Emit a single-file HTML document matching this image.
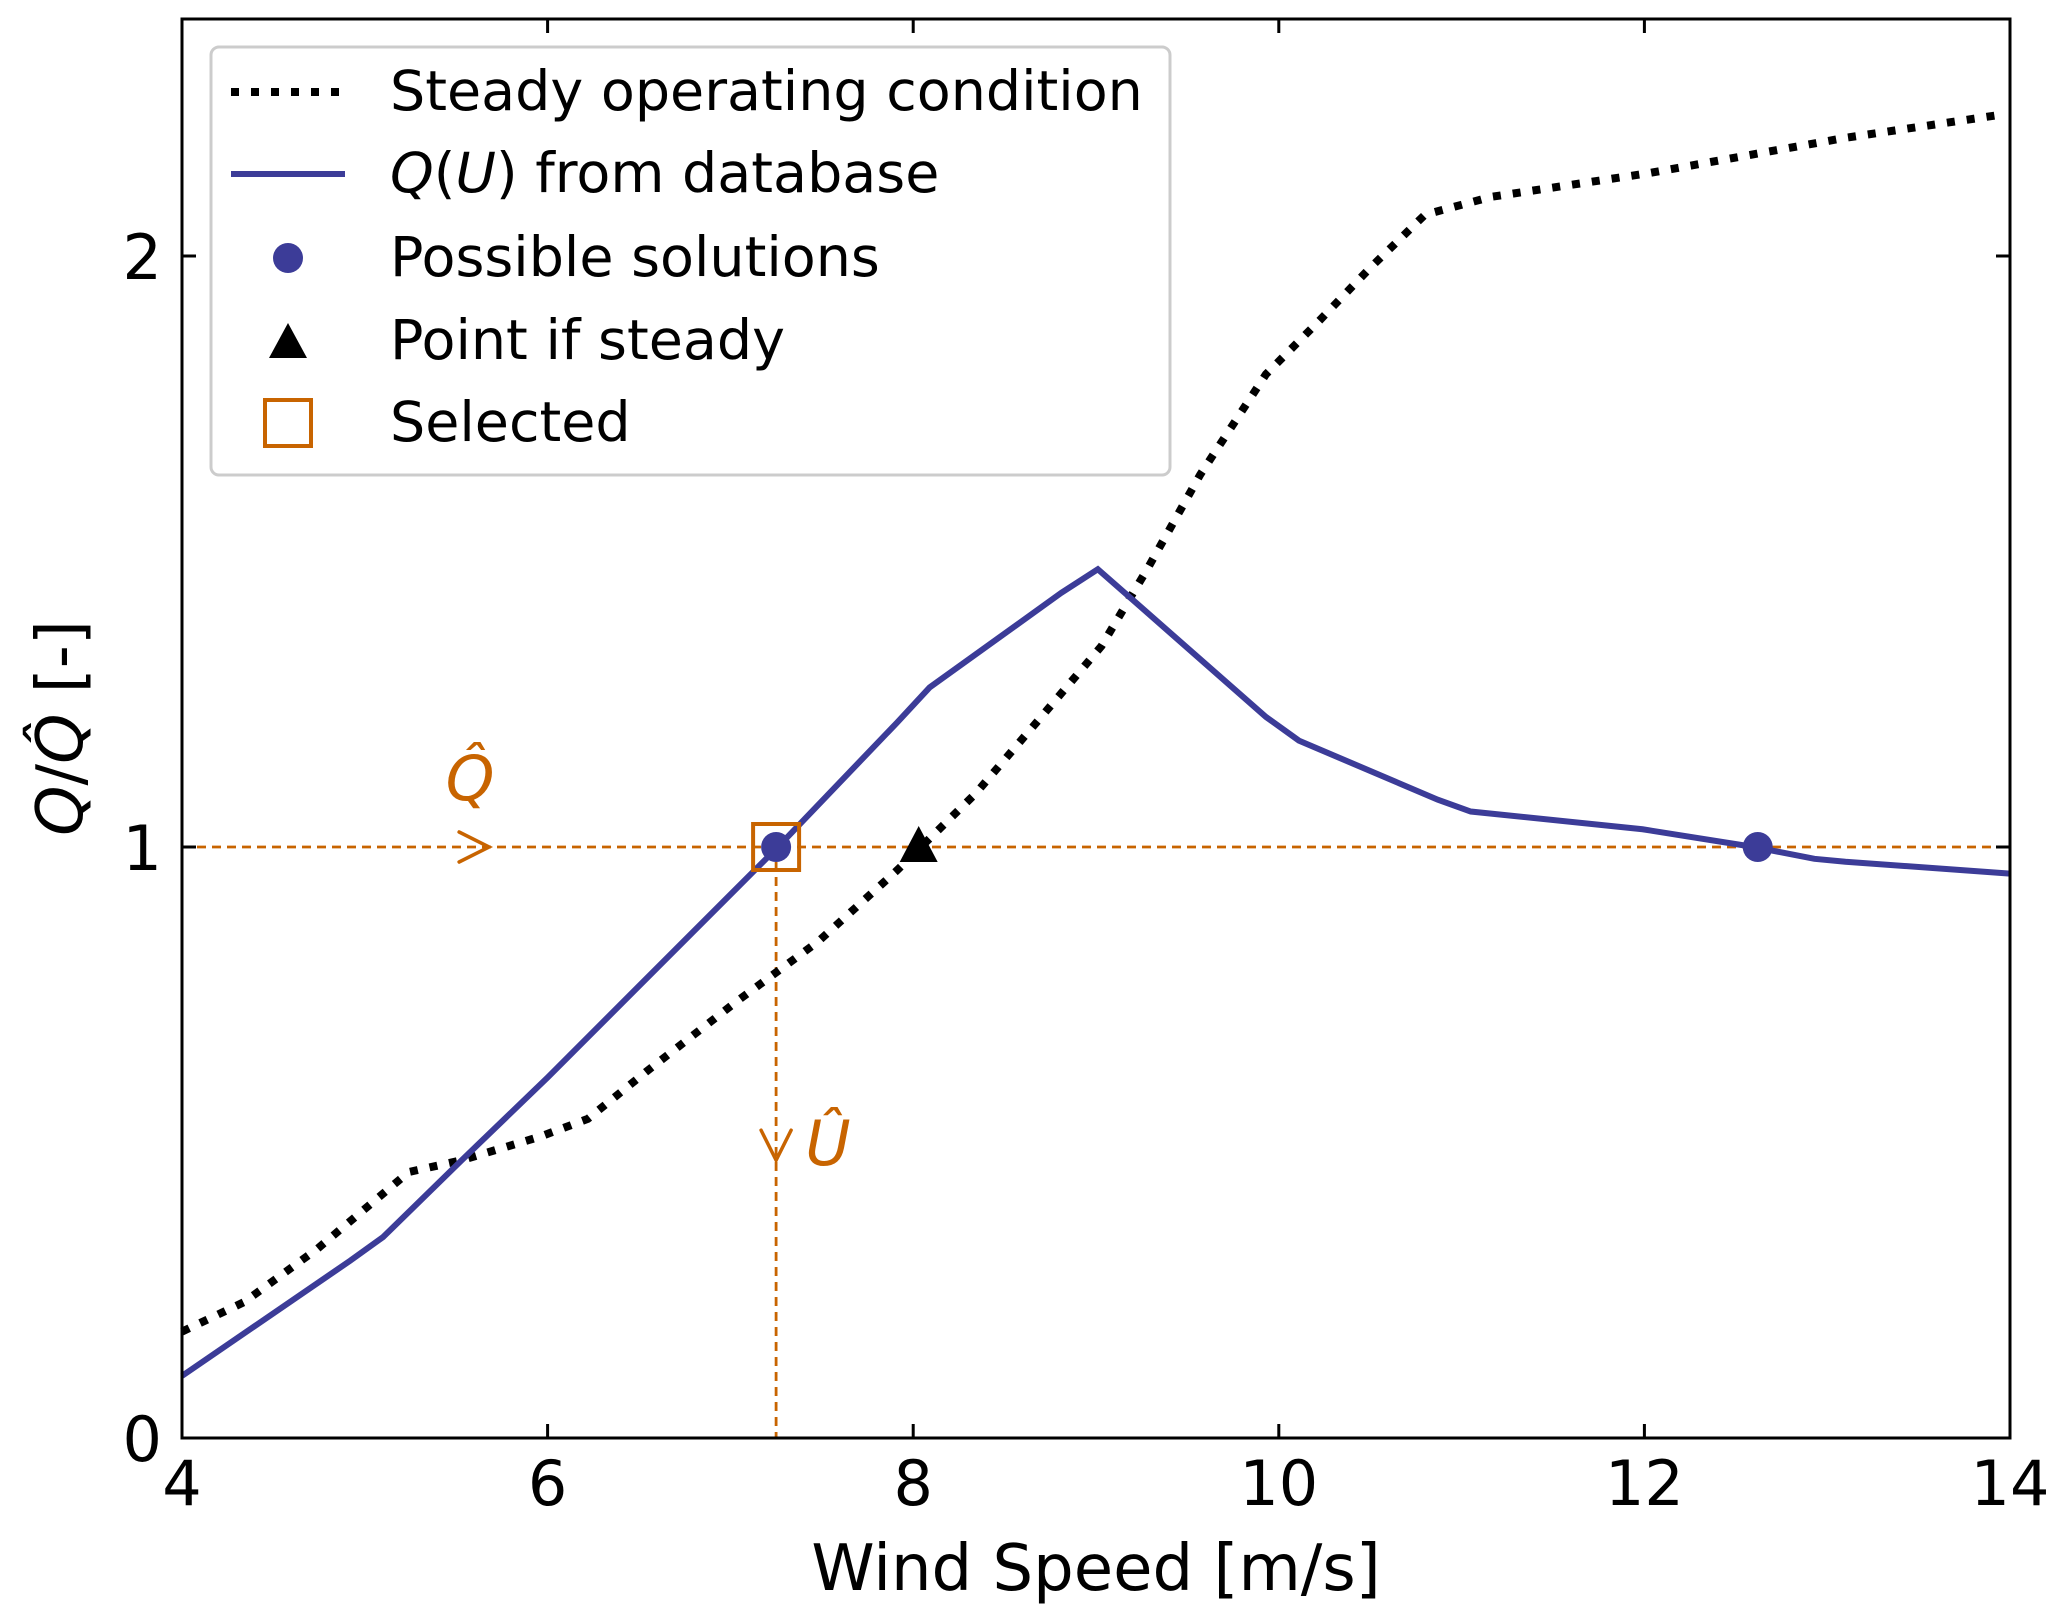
<!DOCTYPE html>
<html><head><meta charset="utf-8"><style>
html,body{margin:0;padding:0;background:#fff;}
svg{display:block;font-family:"DejaVu Sans","Liberation Sans",sans-serif;}
</style></head><body>
<svg id="chart" width="2067" height="1618" viewBox="0 0 2067 1618" xmlns="http://www.w3.org/2000/svg">
<g id="plot"></g>
<rect x="182" y="19" width="1828" height="1419" fill="none" stroke="#000" stroke-width="3"/>
<g id="ticks"></g>
<text x="1096" y="1590" font-size="64" text-anchor="middle">Wind Speed [m/s]</text>
<text transform="translate(82,728) rotate(-90)" font-size="64" text-anchor="middle"><tspan font-style="italic">Q</tspan>/<tspan font-style="italic">Q̂</tspan> [-]</text>
<g>
<rect x="211" y="47" width="959" height="428" rx="8" fill="#fff" fill-opacity="0.85" stroke="#ccc" stroke-width="3"/>
<line x1="231" y1="92" x2="345" y2="92" stroke="#000" stroke-width="8" stroke-dasharray="8,12"/>
<text x="390" y="110" font-size="55.5">Steady operating condition</text>
<line x1="231" y1="174" x2="345" y2="174" stroke="#3c3c98" stroke-width="6"/>
<text x="390" y="192" font-size="55.5"><tspan font-style="italic">Q</tspan>(<tspan font-style="italic">U</tspan>) from database</text>
<circle cx="288" cy="258" r="15" fill="#3c3c98"/>
<text x="390" y="276" font-size="55.5">Possible solutions</text>
<polygon points="288,323 307,358 269,358" fill="#000"/>
<text x="390" y="359" font-size="55.5">Point if steady</text>
<rect x="265" y="400" width="46" height="46" fill="none" stroke="#c86400" stroke-width="4"/>
<text x="390" y="441" font-size="55.5">Selected</text>
</g>
</svg>
<script>
const steadyU=[4,4.34,4.74,5.24,5.53,5.96,6.22,6.54,7.04,7.48,7.91,8.34,8.7,9.03,9.28,9.57,9.93,10.22,10.5,10.8,11.16,12.02,13.1,13.97];
const steadyQ=[0.18,0.23,0.32,0.45,0.47,0.51,0.54,0.62,0.74,0.84,0.96,1.09,1.22,1.34,1.47,1.63,1.80,1.89,1.98,2.07,2.10,2.14,2.20,2.24];
const dbU=[4,4.92,5.1,5.53,6.0,7.26,7.91,8.09,8.81,9.01,9.93,10.11,10.87,11.05,11.99,12.6,12.93,13.1,14];
const dbQ=[0.105,0.30,0.34,0.47,0.61,1.0,1.21,1.27,1.43,1.47,1.22,1.18,1.08,1.06,1.03,1.0,0.98,0.975,0.955];
const solutionU=[7.25,12.62];
const solutionQ=[1,1];
const steadyPointU=[8.03];
const steadyPointQ=[1];
const selectedU=[7.25];
const selectedQ=[1];
const xTicks=[4,6,8,10,12,14];
const yTicks=[0,1,2];
const NS="http://www.w3.org/2000/svg";
const X=v=>182+(v-4)*182.8;
const Y=v=>1438-v*591;
const plot=document.getElementById('plot');
const ticks=document.getElementById('ticks');
function mk(tag,attrs,parent){const e=document.createElementNS(NS,tag);for(const k in attrs)e.setAttribute(k,attrs[k]);parent.appendChild(e);return e;}
let e;
e=mk('line',{x1:X(4),y1:Y(selectedQ[0]),x2:X(14),y2:Y(selectedQ[0]),stroke:'#c86400','stroke-width':2.8,'stroke-dasharray':'9,6'},plot);


e=mk('line',{x1:X(selectedU[0]),y1:Y(selectedQ[0]),x2:X(selectedU[0]),y2:Y(0),stroke:'#c86400','stroke-width':2.8,'stroke-dasharray':'9,6'},plot);


const ax=X(5.68),ay=Y(1);
e=mk('path',{d:`M${ax-30},${ay-15} L${ax},${ay} L${ax-30},${ay+15}`,fill:'none',stroke:'#c86400','stroke-width':3.5,'stroke-linecap':'round'},plot);


const bx=X(selectedU[0]),by=Y(0.47);
e=mk('path',{d:`M${bx-15},${by-30} L${bx},${by} L${bx+15},${by-30}`,fill:'none',stroke:'#c86400','stroke-width':3.5,'stroke-linecap':'round'},plot);


e=mk('text',{x:470,y:800,'font-size':62,'font-style':'italic',fill:'#c86400','text-anchor':'middle'},plot);e.textContent='Q̂';


e=mk('text',{x:828,y:1165,'font-size':62,'font-style':'italic',fill:'#c86400','text-anchor':'middle'},plot);e.textContent='Û';


e=mk('polyline',{points:steadyU.map((u,i)=>X(u)+','+Y(steadyQ[i])).join(' '),fill:'none',stroke:'#000','stroke-width':8,'stroke-dasharray':'8,12'},plot);


e=mk('polyline',{points:dbU.map((u,i)=>X(u)+','+Y(dbQ[i])).join(' '),fill:'none',stroke:'#3c3c98','stroke-width':6},plot);


solutionU.forEach((u,i)=>{e=mk('circle',{cx:X(u),cy:Y(solutionQ[i]),r:15,fill:'#3c3c98'},plot);

});
steadyPointU.forEach((u,i)=>{const x=X(u),y=Y(steadyPointQ[i]);e=mk('polygon',{points:`${x},${y-21} ${x+19},${y+15} ${x-19},${y+15}`,fill:'#000'},plot);

});
selectedU.forEach((u,i)=>{e=mk('rect',{x:X(u)-23,y:Y(selectedQ[i])-23,width:46,height:46,fill:'none',stroke:'#c86400',"stroke-width":4},plot);

});
xTicks.forEach(t=>{const x=X(t);
mk('line',{x1:x,y1:1438,x2:x,y2:1424,stroke:'#000','stroke-width':3},ticks);
mk('line',{x1:x,y1:19,x2:x,y2:33,stroke:'#000','stroke-width':3},ticks);
e=mk('text',{x:x,y:1505,'font-size':62,'text-anchor':'middle'},ticks);e.textContent=t;

});
yTicks.forEach(t=>{const y=Y(t);
mk('line',{x1:182,y1:y,x2:196,y2:y,stroke:'#000','stroke-width':3},ticks);
mk('line',{x1:2010,y1:y,x2:1996,y2:y,stroke:'#000','stroke-width':3},ticks);
e=mk('text',{x:162,y:y+23,'font-size':62,'text-anchor':'end'},ticks);e.textContent=t;

});
</script>
</body></html>
